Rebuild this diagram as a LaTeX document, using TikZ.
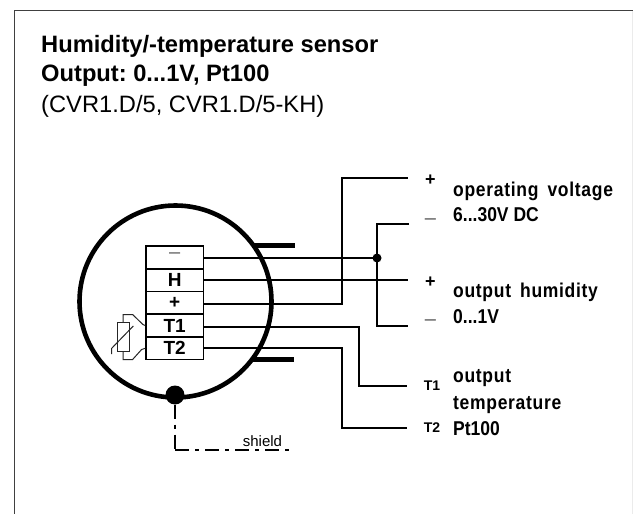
\documentclass[tikz,border=0pt]{standalone}
\usepackage{fontspec}
\setmainfont{Liberation Sans}
\usetikzlibrary{calc}
\tikzset{
  frame/.style={draw=black!75,line width=1.5pt},
  wire/.style={draw=black,line width=2pt,line join=miter},
  cell/.style={draw=black,line width=1.5pt,minimum width=57.5pt,minimum height=22.8pt,inner sep=0pt,font=\bfseries\fontsize{19}{19}\selectfont},
  stub/.style={draw=black,line width=5pt},
  thin part/.style={draw=black!85,line width=1pt},
  shieldline/.style={draw=black,line width=1.1pt,dash pattern=on 14pt off 6pt on 4pt off 6pt},
  head/.style={anchor=base west,inner sep=0pt,font=\frenchspacing\fontsize{23.7}{24}\selectfont},
  lab/.style={anchor=base west,inner sep=0pt,font=\frenchspacing\bfseries\fontsize{20}{20}\selectfont\addfontfeature{FakeStretch=.875}},
  pol/.style={inner sep=0pt,font=\bfseries\fontsize{18}{18}\selectfont},
  neg/.style={inner sep=0pt,font=\fontsize{20}{20}\selectfont,text=black!65},
  tag/.style={inner sep=0pt,font=\bfseries\fontsize{14}{14}\selectfont},
  blob/.style={circle,fill=black,inner sep=0pt},
}
\newcommand{\spaced}[1]{\addfontfeature{LetterSpace=3.5}\spaceskip=9pt\relax #1}
\begin{document}
\begin{tikzpicture}[x=1pt,y=-1pt]
\useasboundingbox (0,0) rectangle (633,514);
\fill[white] (0,0) rectangle (633,514);
\draw[frame] (14.5,514) -- (14.5,10.5) -- (633,10.5);
\draw[draw=black!8,line width=1pt] (632.5,11) -- (632.5,514);
% titles
\node[head] (t1) at (41,52.7) {\bfseries Humidity/-temperature sensor};
\node[head] (t2) at (41,81.7) {\bfseries Output: 0...1V, Pt100};
\node[head] (t3) at (41,112) {(CVR1.D/5, CVR1.D/5-KH)};
% housing
\draw[black,line width=4.6pt] (175.5,301.5) circle (96);
\coordinate (s1a) at (253,245.3); \coordinate (s1b) at (295,245.3);
\coordinate (s2a) at (252,359.7); \coordinate (s2b) at (294,359.7);
\draw[stub] (s1a) -- (s1b);
\draw[stub] (s2a) -- (s2b);
% terminal block
\node[cell] (cm) at (174.7,257.2) {};
\node[cell] (cH) at (174.7,280.2) {\raisebox{-1pt}{H}};
\node[cell] (cp) at (174.7,303) {\raisebox{-4pt}{+}};
\node[cell] (cA) at (174.7,325.5) {T1};
\node[cell] (cB) at (174.7,348.3) {T2};
\node[inner sep=0pt,font=\fontsize{20}{20}\selectfont,text=black!60] (cml) at (174.7,255.5) {–};
% thermistor
\node[draw=black!85,line width=1pt,minimum width=11.7pt,minimum height=29pt,inner sep=0pt] (rt) at (123.2,337.2) {};
\draw[thin part] (rt.north) -- ++(0,-7.7) -- ++(9.4,0) -- ++(10.3,10) -- (cA.west);
\draw[thin part] (rt.south) -- ++(0,7.3) -- ++(9.4,0) -- ++(9,-10) -- (cB.west);
\coordinate (sl0) at (111.7,354); \coordinate (sl1) at (111.7,348.3); \coordinate (sl2) at (133.3,326);
\draw[thin part] (sl0) -- (sl1) -- (sl2);
% shield
\node[blob,minimum size=19pt] (gnd) at (175,395) {};
\coordinate (sc) at (175,450); \coordinate (se) at (294,450);
\draw[shieldline] (gnd.south) -- (sc);
\draw[shieldline] (sc) -- (se);
\node[anchor=base west,inner sep=0pt,font=\fontsize{15}{15}\selectfont] (shl) at (242.7,446) {shield};
% wires
\coordinate (eP) at (408,178);
\coordinate (eM) at (409,224);
\coordinate (eH) at (408,280);
\coordinate (eN) at (408,326);
\coordinate (eA) at (407,386);
\coordinate (eB) at (407,428);
\node[blob,minimum size=9pt] (jn) at (377,258) {};
\draw[wire] (cm.east |- jn) -- (jn.center);
\draw[wire] (eM) -| (jn.center) |- (eN);
\draw[wire] (cH.east |- eH) -- (eH);
\draw[wire] ([yshift=-1pt]cp.east) -| (342,178) -- (eP);
\draw[wire] ([yshift=-1.5pt]cA.east) -| (359,386) -- (eA);
\draw[wire] ([yshift=.3pt]cB.east) -| (342,428) -- (eB);
% polarity
\node[pol] (p1) at (430.5,180) {+};
\node[neg] (p2) at (430.5,222) {–};
\node[pol] (p3) at (430.5,282) {+};
\node[neg] (p4) at (430.5,323) {–};
\node[tag] (p5) at (432,386) {T1};
\node[tag] (p6) at (432,428) {T2};
% labels
\node[lab] (l1) at (453,196.7) {\spaced{operating voltage}};
\node[lab] (l2) at (453,221.7) {6...30V DC};
\node[lab] (l3) at (453,297.7) {\spaced{output humidity}};
\node[lab] (l4) at (453,323) {0...1V};
\node[lab] (l5) at (453,382.7) {\spaced{output}};
\node[lab] (l6) at (453,409) {\spaced{temperature}};
\node[lab] (l7) at (453,435) {Pt100};
\end{tikzpicture}
\end{document}
